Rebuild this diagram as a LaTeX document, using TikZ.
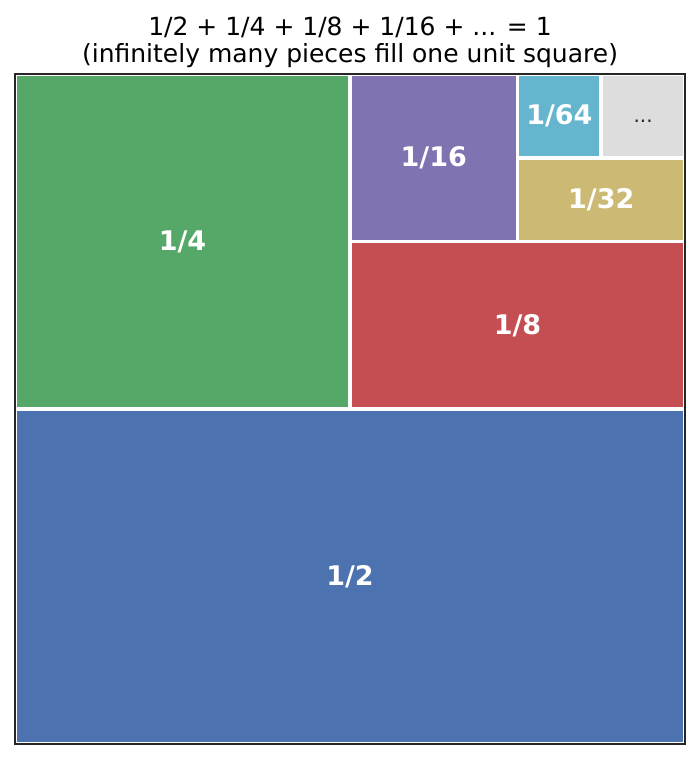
\documentclass[tikz,border=0pt]{standalone}
\usepackage{fontspec}
\setmainfont{DejaVu Sans}
\usepackage{xcolor}
\definecolor{deepblue}{HTML}{4C72B0}
\definecolor{deepgreen}{HTML}{55A868}
\definecolor{deepred}{HTML}{C44E52}
\definecolor{deeppurple}{HTML}{8172B2}
\definecolor{deepyellow}{HTML}{CCB974}
\definecolor{deepcyan}{HTML}{64B5CD}
\definecolor{restgray}{HTML}{DDDDDD}
\definecolor{framegray}{HTML}{262626}

\begin{document}
\begin{tikzpicture}[x=670pt,y=670pt,
		piece/.style={draw=white,line width=3.8pt},
		frac/.style={text=white,font=\fontsize{27}{27}\selectfont\bfseries},
		titletext/.style={anchor=base,font=\fontsize{25}{30}\selectfont}]
		\useasboundingbox (-15pt,-15pt) rectangle (685pt,744pt);
		% the pieces, each half of what is left
		\filldraw[piece,fill=deepblue] (0,0) rectangle (1,0.5);
		\filldraw[piece,fill=deepgreen] (0,0.5) rectangle (0.5,1);
		\filldraw[piece,fill=deepred] (0.5,0.5) rectangle (1,0.75);
		\filldraw[piece,fill=deeppurple] (0.5,0.75) rectangle (0.75,1);
		\filldraw[piece,fill=deepyellow] (0.75,0.75) rectangle (1,0.875);
		\filldraw[piece,fill=deepcyan] (0.75,0.875) rectangle (0.875,1);
		\filldraw[piece,fill=restgray] (0.875,0.875) rectangle (1,1);
		\node[frac] (half) at (0.5,0.25) {1/2};
		\node[frac] (quarter) at (0.25,0.75) {1/4};
		\node[frac] (eighth) at (0.75,0.625) {1/8};
		\node[frac] (sixteenth) at (0.625,0.875) {1/16};
		\node[frac] (thirtysecond) at (0.875,0.8125) {1/32};
		\node[frac] (sixtyfourth) at (0.8125,0.9375) {1/64};
		\node[text=framegray,font=\fontsize{20}{20}\selectfont,anchor=base] (rest) at (0.9375,621pt) {...};
		\draw[line width=1.5pt,framegray] (0,0) rectangle (1,1);
		% title
		\node[titletext] (title) at (0.5,708pt) {1/2 + 1/4 + 1/8 + 1/16 + ... = 1};
		\node[titletext] (subtitle) at (0.5,681pt) {(infinitely many pieces fill one unit square)};
	\end{tikzpicture}
\end{document}
